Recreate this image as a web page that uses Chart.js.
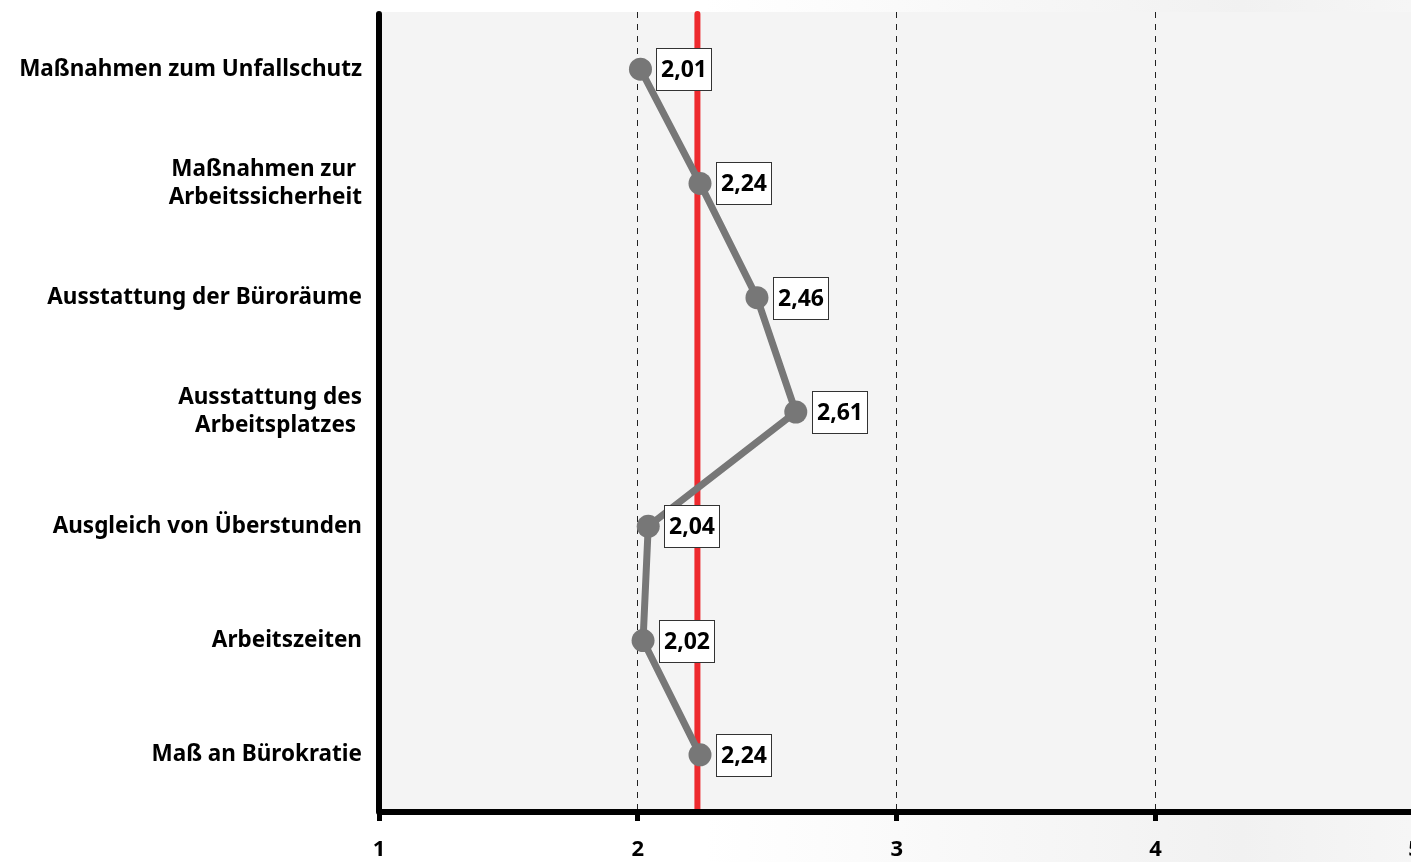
<!DOCTYPE html>
<html>
<head>
<meta charset="utf-8">
<script src="https://cdn.jsdelivr.net/npm/chart.js@4/dist/chart.umd.min.js"></script>
<style>
  html, body { margin: 0; padding: 0; overflow: hidden; width: 1411px; height: 862px;
    background: linear-gradient(to right, #ffffff 0%, #ffffff 50%, #f1f1f1 88%, #f6f6f6 100%); }
  #wrap { position: absolute; left: 0; top: 0; width: 1426px; height: 862px; }
</style>
</head>
<body>
<div id="wrap"><canvas id="c"></canvas></div>
<script>
const categories = [
  "Maßnahmen zum Unfallschutz",
  ["Maßnahmen zur ", "Arbeitssicherheit"],
  "Ausstattung der Büroräume",
  ["Ausstattung des", "Arbeitsplatzes "],
  "Ausgleich von Überstunden",
  "Arbeitszeiten",
  "Maß an Bürokratie"
];
const values = [2.01, 2.24, 2.46, 2.61, 2.04, 2.02, 2.24];
const meanValue = 2.23;
const xTickValues = [1, 2, 3, 4, 5];

const FONT = "'Noto Sans', 'Open Sans', sans-serif";

const bgPlugin = {
  id: 'bg',
  beforeDraw(chart) {
    const { ctx, chartArea: a } = chart;
    ctx.save();
    ctx.fillStyle = '#f4f4f4';
    ctx.fillRect(a.left, a.top, a.right - a.left, a.bottom - a.top);
    ctx.restore();
  }
};

const meanLinePlugin = {
  id: 'meanLine',
  beforeDatasetsDraw(chart) {
    const { ctx, chartArea: a, scales } = chart;
    const x = scales.x.getPixelForValue(meanValue);
    ctx.save();
    ctx.strokeStyle = '#ee2a2e';
    ctx.lineWidth = 6;
    ctx.lineCap = 'round';
    ctx.beginPath();
    ctx.moveTo(x, a.top + 2);
    ctx.lineTo(x, a.bottom);
    ctx.stroke();
    ctx.restore();
  }
};

const axesPlugin = {
  id: 'axesLines',
  afterDatasetsDraw(chart) {
    const { ctx, chartArea: a } = chart;
    ctx.save();
    ctx.strokeStyle = '#000';
    ctx.lineWidth = 6;
    ctx.lineCap = 'round';
    ctx.lineJoin = 'round';
    ctx.beginPath();
    ctx.moveTo(a.left, a.top + 2);
    ctx.lineTo(a.left, a.bottom);
    ctx.lineTo(a.right + 10, a.bottom);
    ctx.stroke();
    ctx.restore();
  }
};

const labelPlugin = {
  id: 'valueLabels',
  afterDatasetsDraw(chart) {
    const { ctx } = chart;
    const meta = chart.getDatasetMeta(0);
    ctx.save();
    ctx.font = "bold 23px " + FONT;
    ctx.textAlign = 'center';
    ctx.textBaseline = 'middle';
    meta.data.forEach((pt, i) => {
      const txt = values[i].toFixed(2).replace('.', ',');
      const w = 55, h = 42;
      const bx = Math.round(pt.x + 16) + 0.5;
      const by = Math.round(pt.y - h / 2) + 0.5;
      ctx.fillStyle = '#ffffff';
      ctx.fillRect(bx, by, w, h);
      ctx.strokeStyle = '#333333';
      ctx.lineWidth = 1;
      ctx.strokeRect(bx, by, w, h);
      ctx.fillStyle = '#000000';
      ctx.fillText(txt, bx + w / 2, by + h / 2 + 1);
    });
    ctx.restore();
  }
};

new Chart(document.getElementById('c'), {
  type: 'line',
  data: {
    labels: categories,
    datasets: [{
      data: values,
      borderColor: '#777777',
      backgroundColor: '#777777',
      borderWidth: 7,
      pointRadius: 11.5,
      pointHoverRadius: 11.5,
      pointBackgroundColor: '#777777',
      pointBorderWidth: 0,
      tension: 0,
      fill: false
    }]
  },
  options: {
    indexAxis: 'y',
    responsive: true,
    maintainAspectRatio: false,
    animation: false,
    events: [],
    layout: { padding: { top: 12, left: 0, right: 0, bottom: 0 } },
    plugins: { legend: { display: false }, tooltip: { enabled: false } },
    scales: {
      x: {
        type: 'linear',
        min: 1,
        max: 5,
        afterBuildTicks(scale) { scale.ticks = xTickValues.map(v => ({ value: v })); },
        afterFit(scale) { scale.height = 50; scale.paddingLeft = 0; scale.paddingRight = 0; },
        border: { display: false, dash: [6, 6] },
        grid: {
          color: (c) => (c.tick && (c.tick.value === 1 || c.tick.value === 5)) ? 'rgba(0,0,0,0)' : '#222222',
          lineWidth: 1,
          drawTicks: true,
          tickLength: 9,
          tickWidth: 5,
          tickColor: '#000000',
          tickBorderDash: []
        },
        ticks: {
          padding: 16,
          color: '#000000',
          font: { family: FONT, size: 22, weight: 'bold' },
          callback: (v) => String(v)
        }
      },
      y: {
        type: 'category',
        offset: true,
        afterFit(scale) { scale.width = 379; scale.paddingTop = 0; scale.paddingBottom = 0; },
        border: { display: false },
        grid: { display: false, drawTicks: false, tickLength: 0 },
        ticks: {
          padding: 17,
          color: '#000000',
          font: { family: FONT, size: 22.5, weight: 'bold', lineHeight: 1.25 }
        }
      }
    }
  },
  plugins: [bgPlugin, meanLinePlugin, axesPlugin, labelPlugin]
});
</script>
</body>
</html>
